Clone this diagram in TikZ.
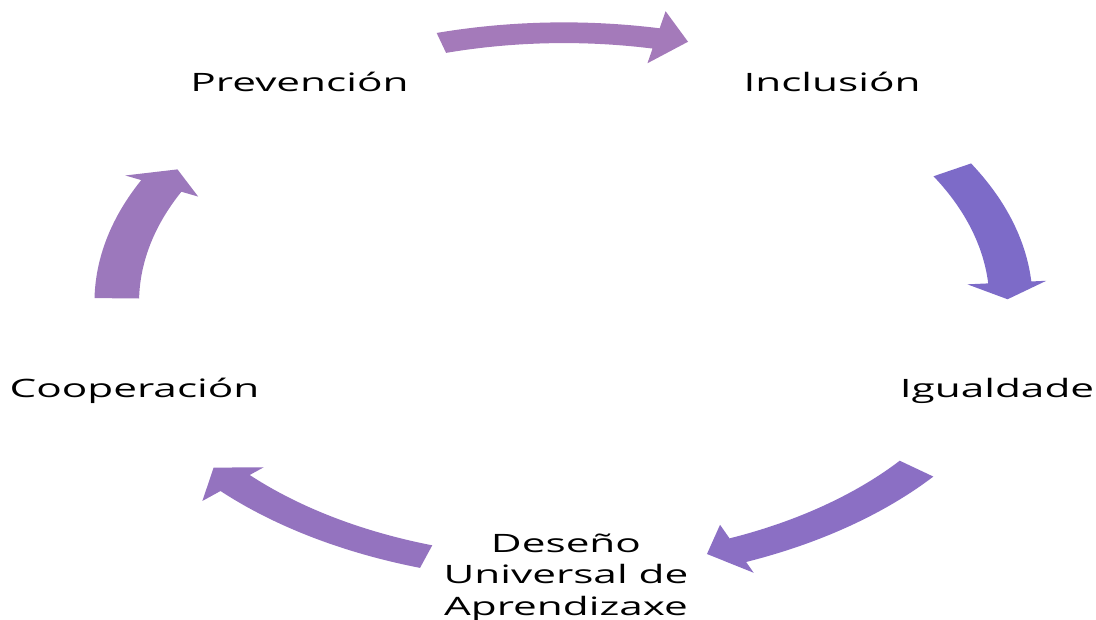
\documentclass[tikz,border=0pt]{standalone}
\usepackage{fontspec}
\newfontfamily\labfont[FakeStretch=1.67]{Open Sans}
\definecolor{cA}{RGB}{164,122,186}
\definecolor{cB}{RGB}{125,107,200}
\definecolor{cC}{RGB}{139,111,196}
\definecolor{cD}{RGB}{148,115,191}
\definecolor{cE}{RGB}{156,120,188}
% #1 colour, #2 tail angle, #3 head base angle, #4 tip angle,
% #5 band inner r, #6 band outer r, #7 barb inner r, #8 barb outer r, #9 tip r
\newcommand{\cyclearrow}[9]{%
  \fill[#1] plot[domain=#2:#3, samples=40] ({564+455*#6*cos(\x)},{302.5-272.5*#6*sin(\x)})
    -- ({564+455*#8*cos(#3)},{302.5-272.5*#8*sin(#3)})
    -- ({564+455*#9*cos(#4)},{302.5-272.5*#9*sin(#4)})
    -- ({564+455*#7*cos(#3)},{302.5-272.5*#7*sin(#3)})
    -- plot[domain=#3:#2, samples=40] ({564+455*#5*cos(\x)},{302.5-272.5*#5*sin(\x)})
    -- cycle;}
\tikzset{lab/.style={font=\labfont\fontsize{19}{23.6}\selectfont, text=black, inner sep=0pt, align=center, anchor=base}}
\begin{document}
\begin{tikzpicture}[x=0.75pt,y=-0.75pt]
\useasboundingbox (0,0) rectangle (1096,620);
\cyclearrow{cA}{105.8}{78.2}{74.1}{0.952}{1.028}{0.897}{1.092}{0.995}
\cyclearrow{cB}{29.7}{4.3}{0.7}{0.935}{1.030}{0.889}{1.063}{0.975}
\cyclearrow{cC}{-38.2}{-67.2}{-71.2}{0.939}{1.033}{0.885}{1.076}{0.975}
\cyclearrow{cD}{-108}{-137.5}{-141.8}{0.937}{1.024}{0.895}{1.078}{0.98}
\cyclearrow{cE}{179.1}{154.2}{150.1}{0.934}{1.032}{0.893}{1.071}{0.98}
\node[lab] (prev) at (299.5,92) {Prevención};
\node[lab] (incl) at (832,92) {Inclusión};
\node[lab] (igua) at (997,397) {Igualdade};
\node[lab] (coop) at (134.5,397) {Cooperación};
\node[lab] (dese) at (566,615) {Deseño\\Universal de\\Aprendizaxe};
\end{tikzpicture}
\end{document}
